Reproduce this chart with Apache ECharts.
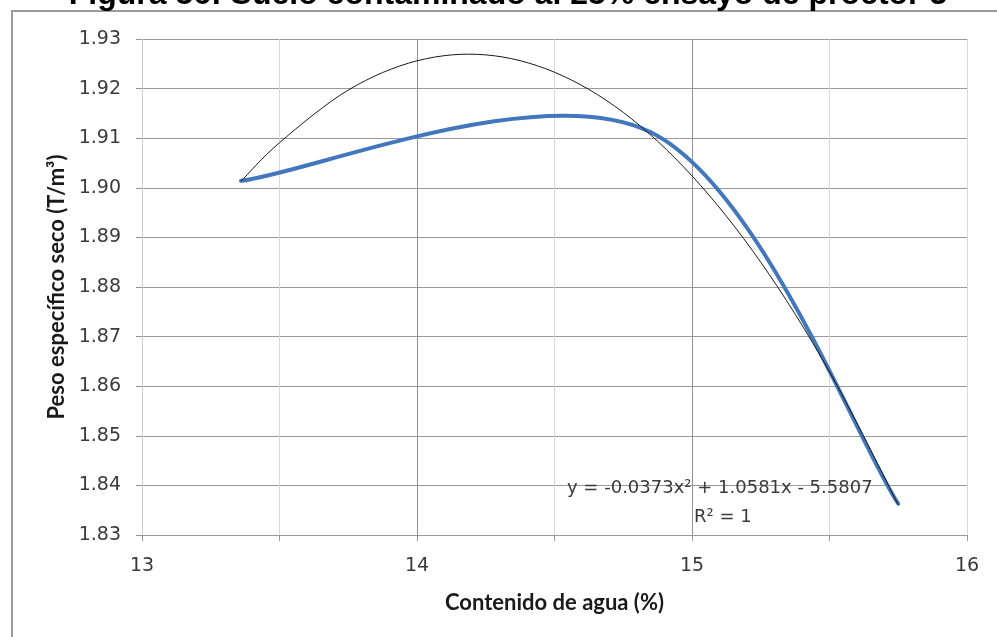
<!DOCTYPE html>
<html>
<head>
<meta charset="utf-8">
<script src="https://cdn.jsdelivr.net/npm/echarts@6/dist/echarts.min.js"></script>
<style>html,body{margin:0;padding:0;background:#fff}#c{width:997px;height:637px}</style>
</head>
<body>
<div id="c"></div>
<script>
// Data
const titleText = 'Figura 56: Suelo contaminado al 25% ensayo de proctor 3';
const xName = 'Contenido de agua (%)';
const yName = 'Peso específico seco (T/m³)';
const waterContent = [13.36, 14.85, 15.75];
const dryDensity = [1.9014, 1.9112, 1.8363];
const trendX = [13.36, 13.5, 13.75, 14, 14.25, 14.5, 14.75, 15, 15.25, 15.5, 15.75];
const trendY = [1.9013, 1.9091, 1.9197, 1.9256, 1.9268, 1.9233, 1.9152, 1.9024, 1.8850, 1.8629, 1.8361];
const equationText = 'y = -0.0373x² + 1.0581x - 5.5807';
const r2Text = 'R² = 1';
const xTicks = [13, 14, 15, 16];
const yTicks = [1.83, 1.84, 1.85, 1.86, 1.87, 1.88, 1.89, 1.90, 1.91, 1.92, 1.93];

// Excel-style smoothed curve (Catmull-Rom Bezier) through points mapped by the chart's own scales
function smoothCurve(xs, ys, api, style) {
  const pts = xs.map((x, i) => api.coord([x, ys[i]]));
  const children = [];
  for (let i = 0; i < pts.length - 1; i++) {
    const p0 = pts[i - 1] || pts[i], p1 = pts[i], p2 = pts[i + 1], p3 = pts[i + 2] || pts[i + 1];
    children.push({
      type: 'bezierCurve',
      shape: {
        x1: p1[0], y1: p1[1],
        cpx1: p1[0] + (p2[0] - p0[0]) / 6, cpy1: p1[1] + (p2[1] - p0[1]) / 6,
        cpx2: p2[0] - (p3[0] - p1[0]) / 6, cpy2: p2[1] - (p3[1] - p1[1]) / 6,
        x2: p2[0], y2: p2[1]
      },
      style: Object.assign({fill: 'none'}, style)
    });
  }
  return {type: 'group', children};
}

const chart = echarts.init(document.getElementById('c'), null, {renderer: 'canvas'});
const tickFont = '"DejaVu Sans", sans-serif';
const nameFont = 'Lato, "Open Sans", sans-serif';
const option = {
  animation: false,
  grid: {left: 142, right: 30, top: 39, bottom: 102},
  xAxis: {
    type: 'value', min: xTicks[0], max: xTicks[xTicks.length - 1], interval: 0.5,
    name: xName, nameLocation: 'middle', nameGap: 57,
    nameTextStyle: {fontFamily: nameFont, fontWeight: 'bold', fontSize: 22, color: '#1a1a1a'},
    axisLine: {show: true, onZero: false, lineStyle: {color: '#9a9a9a', width: 1}},
    axisTick: {show: true, length: 6, lineStyle: {color: '#9a9a9a'}},
    axisLabel: {margin: 22, fontFamily: tickFont, fontSize: 19, color: '#3a3a3a',
      formatter: v => (xTicks.indexOf(v) >= 0 ? String(v) : '')},
    splitLine: {show: true, lineStyle: {color: ['#d8d8d8', '#d8d8d8', '#929292', '#d8d8d8', '#929292', '#d8d8d8', '#d8d8d8'], width: 1}}
  },
  yAxis: {
    type: 'value', min: yTicks[0], max: yTicks[yTicks.length - 1], interval: 0.01,
    name: yName, nameLocation: 'middle', nameGap: 73, nameRotate: 90,
    nameTextStyle: {fontFamily: nameFont, fontWeight: 'bold', fontSize: 22, color: '#1a1a1a'},
    axisLine: {show: true, lineStyle: {color: '#d0d0d0', width: 1}},
    axisTick: {show: true, length: 6, lineStyle: {color: '#929292'}},
    axisLabel: {margin: 21, fontFamily: tickFont, fontSize: 19, color: '#3a3a3a',
      formatter: v => v.toFixed(2)},
    splitLine: {show: true, lineStyle: {color: '#999999', width: 1}}
  },
  series: [
    {
      type: 'custom', z: 2,
      data: waterContent.map((x, i) => [x, dryDensity[i]]),
      renderItem: (params, api) => params.dataIndex === 0
        ? smoothCurve(waterContent, dryDensity, api, {stroke: '#4277bd', lineWidth: 4, lineCap: 'round', lineJoin: 'round'})
        : null
    },
    {
      type: 'custom', z: 3,
      data: trendX.map((x, i) => [x, trendY[i]]),
      renderItem: (params, api) => params.dataIndex === 0
        ? smoothCurve(trendX, trendY, api, {stroke: '#1a1a1a', lineWidth: 1})
        : null
    }
  ],
  graphic: [
    {type: 'rect', shape: {x: 12, y: 11, width: 1100, height: 800},
      style: {fill: 'none', stroke: '#9a9a9a', lineWidth: 2}, z: 1},
    {type: 'text', x: 508, y: -5, style: {text: titleText, fill: '#000',
      font: 'bold 32px "Liberation Sans", Arial, sans-serif', align: 'center', verticalAlign: 'middle'}, z: 10},
    {type: 'text', x: 567, y: 488, style: {text: equationText, fill: '#3a3a3a',
      font: '18px "DejaVu Sans", sans-serif', align: 'left', verticalAlign: 'middle'}, z: 10},
    {type: 'text', x: 694, y: 517, style: {text: r2Text, fill: '#3a3a3a',
      font: '18px "DejaVu Sans", sans-serif', align: 'left', verticalAlign: 'middle'}, z: 10}
  ]
};
chart.setOption(option);
</script>
</body>
</html>
